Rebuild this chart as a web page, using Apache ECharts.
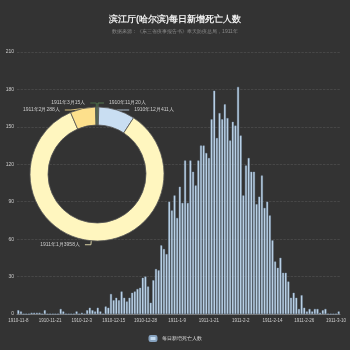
<!DOCTYPE html>
<html>
<head>
<meta charset="utf-8">
<script src="https://cdn.jsdelivr.net/npm/echarts@6/dist/echarts.min.js"></script>
<style>
  html, body { margin: 0; padding: 0; background: #333; }
  #chart { width: 350px; height: 350px; }
</style>
</head>
<body>
<div id="chart"></div>
<script>
// Daily dates (a few days have no record)
const dates = [
  '1910-11-8','1910-11-9','1910-11-10','1910-11-11','1910-11-12','1910-11-13','1910-11-15','1910-11-16',
  '1910-11-17','1910-11-18','1910-11-19','1910-11-20','1910-11-21','1910-11-22','1910-11-23','1910-11-24',
  '1910-11-25','1910-11-26','1910-11-27','1910-11-28','1910-11-29','1910-11-30',
  '1910-12-1','1910-12-2','1910-12-3','1910-12-4','1910-12-5','1910-12-6','1910-12-7','1910-12-8',
  '1910-12-9','1910-12-10','1910-12-11','1910-12-12','1910-12-13','1910-12-14','1910-12-15','1910-12-16',
  '1910-12-17','1910-12-18','1910-12-19','1910-12-20','1910-12-21','1910-12-23','1910-12-24','1910-12-25',
  '1910-12-26','1910-12-27','1910-12-28','1910-12-29','1910-12-30','1910-12-31',
  '1911-1-1','1911-1-2','1911-1-3','1911-1-4','1911-1-5','1911-1-6','1911-1-7','1911-1-8',
  '1911-1-9','1911-1-10','1911-1-11','1911-1-12','1911-1-13','1911-1-14','1911-1-15','1911-1-16',
  '1911-1-17','1911-1-18','1911-1-19','1911-1-20','1911-1-21','1911-1-22','1911-1-23','1911-1-24',
  '1911-1-25','1911-1-26','1911-1-27','1911-1-28','1911-1-29','1911-1-30','1911-1-31',
  '1911-2-1','1911-2-2','1911-2-3','1911-2-4','1911-2-5','1911-2-6','1911-2-7','1911-2-8',
  '1911-2-9','1911-2-10','1911-2-11','1911-2-12','1911-2-13','1911-2-14','1911-2-15','1911-2-16',
  '1911-2-17','1911-2-18','1911-2-19','1911-2-20','1911-2-21','1911-2-22','1911-2-23','1911-2-24',
  '1911-2-25','1911-2-26','1911-2-27','1911-2-28',
  '1911-3-1','1911-3-2','1911-3-3','1911-3-4','1911-3-5','1911-3-6','1911-3-7','1911-3-8',
  '1911-3-9','1911-3-10','1911-3-11'
];

// Daily new deaths, month by month
const deathsNov = [3,2,0,0,0,1,1,1,1,0,3,0,0,0,0,0,4,2,0,0,0,0];
const deathsDec = [2,0,1,0,3,5,3,2,5,2,0,6,5,16,11,13,11,18,13,10,13,17,18,20,21,29,30,22,9,27];
const deathsJan = [36,35,55,52,48,90,83,95,77,102,89,123,89,123,114,103,123,135,135,129,125,156,179,141,161,156,168,157,139,154,151];
const deathsFeb = [182,143,95,119,125,114,114,88,94,111,85,90,79,59,42,37,45,33,33,26,13,17,13,4,15,5,2,4];
const deathsMar = [2,4,4,1,3,4,0,0,0,0,2];

// Monthly totals shown in the ring
const monthNames = ['1910年11月','1910年12月','1911年1月','1911年2月','1911年3月'];
const monthTotals = [20, 411, 3958, 288, 15];
const monthColors = ['#5e8a58','#c9def2','#fff6bf','#fde08c','#4e7a4c'];

const yTicks = [0, 30, 60, 90, 120, 150, 180, 210];

const daily = [].concat(deathsNov, deathsDec, deathsJan, deathsFeb, deathsMar);

const chart = echarts.init(document.getElementById('chart'), null, { renderer: 'canvas' });

chart.setOption({
  backgroundColor: '#333',
  animation: false,
  title: {
    text: '滨江厅(哈尔滨)每日新增死亡人数',
    subtext: '数据来源：《东三省疫事报告书》奉天防疫总局，1911年',
    left: 'center',
    top: 10,
    itemGap: 5,
    textStyle: { color: '#eeeeee', fontSize: 9, fontWeight: 'bold' },
    subtextStyle: { color: '#8a8a8a', fontSize: 5 }
  },
  legend: {
    bottom: 3,
    left: 'center',
    itemWidth: 7,
    itemHeight: 5,
    textStyle: { color: '#dddddd', fontSize: 5 },
    data: ['每日新增死亡人数']
  },
  grid: { left: 17, right: 10, top: 52, bottom: 36 },
  xAxis: {
    type: 'category',
    data: dates,
    axisLine: { lineStyle: { color: '#777' } },
    axisTick: { show: false },
    axisLabel: { color: '#cccccc', fontSize: 4.5, interval: 11, margin: 4 }
  },
  yAxis: {
    type: 'value',
    min: yTicks[0],
    max: yTicks[yTicks.length - 1],
    interval: 30,
    axisLine: { show: false },
    axisTick: { show: false },
    axisLabel: { color: '#cccccc', fontSize: 5, margin: 3 },
    splitLine: { lineStyle: { color: '#555', type: 'dashed', width: 0.6 } }
  },
  series: [
    {
      name: '每日新增死亡人数',
      type: 'bar',
      data: daily,
      barCategoryGap: '28%',
      itemStyle: { color: '#c6dcf0', borderColor: '#86a2bf', borderWidth: 0.4 }
    },
    {
      name: '月度死亡人数',
      type: 'pie',
      center: [97, 174],
      radius: [49, 67],
      startAngle: 90,
      avoidLabelOverlap: true,
      itemStyle: { borderColor: '#555', borderWidth: 0.8 },
      label: {
        color: '#cccccc',
        fontSize: 5,
        formatter: '{b}{c}人'
      },
      labelLine: { length: 4, length2: 6, lineStyle: { width: 0.8 } },
      data: monthNames.map((n, i) => ({
        name: n,
        value: monthTotals[i],
        itemStyle: { color: monthColors[i] }
      }))
    }
  ]
});
</script>
</body>
</html>
